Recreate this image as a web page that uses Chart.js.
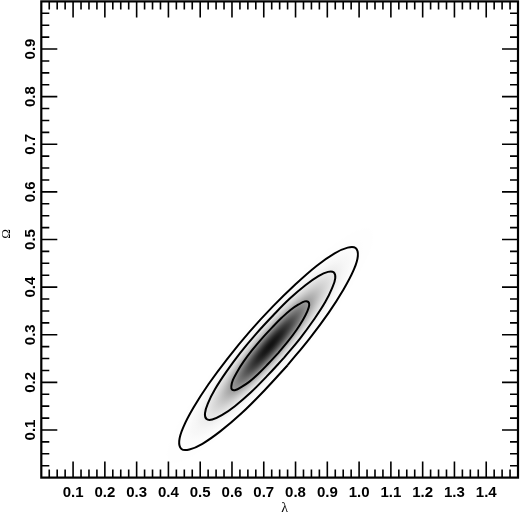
<!DOCTYPE html>
<html>
<head>
<meta charset="utf-8">
<script src="https://cdn.jsdelivr.net/npm/chart.js@4/dist/chart.umd.min.js"></script>
<style>
  html, body { margin: 0; padding: 0; background: #ffffff; }
  #wrap { width: 520px; height: 520px; position: relative; }
</style>
</head>
<body>
<div id="wrap"><canvas id="c"></canvas></div>
<script>
// ---- Data ----
const xAxisTitle = 'λ';
const yAxisTitle = 'Ω';
const xRange = [0, 1.5];
const yRange = [0, 1.0];
const xTickValues = [0.1, 0.2, 0.3, 0.4, 0.5, 0.6, 0.7, 0.8, 0.9, 1.0, 1.1, 1.2, 1.3, 1.4];
const xTickLabels = ['0.1', '0.2', '0.3', '0.4', '0.5', '0.6', '0.7', '0.8', '0.9', '1.0', '1.1', '1.2', '1.3', '1.4'];
const yTickValues = [0.1, 0.2, 0.3, 0.4, 0.5, 0.6, 0.7, 0.8, 0.9];
const yTickLabels = ['0.1', '0.2', '0.3', '0.4', '0.5', '0.6', '0.7', '0.8', '0.9'];
const minorStep = 0.025;

// contour lines [lambda, Omega] (inner, middle, outer)
const innerContour = [
  [0.746, 0.262], [0.714, 0.239], [0.683, 0.218], [0.654, 0.201], [0.629, 0.190], [0.611, 0.184],
  [0.600, 0.185], [0.598, 0.192], [0.603, 0.205], [0.617, 0.223], [0.637, 0.244], [0.664, 0.268],
  [0.694, 0.292], [0.726, 0.315], [0.757, 0.336], [0.786, 0.353], [0.811, 0.364], [0.829, 0.370],
  [0.840, 0.369], [0.843, 0.362], [0.837, 0.349], [0.823, 0.331], [0.803, 0.310], [0.776, 0.286],
  [0.746, 0.262]
];
const middleContour = [
  [0.764, 0.252], [0.710, 0.213], [0.658, 0.178], [0.609, 0.150], [0.568, 0.131], [0.538, 0.122],
  [0.520, 0.123], [0.515, 0.135], [0.525, 0.157], [0.547, 0.186], [0.582, 0.222], [0.626, 0.262],
  [0.676, 0.302], [0.730, 0.341], [0.782, 0.376], [0.831, 0.404], [0.872, 0.423], [0.902, 0.432],
  [0.920, 0.431], [0.925, 0.419], [0.915, 0.398], [0.893, 0.368], [0.858, 0.332], [0.814, 0.292],
  [0.764, 0.252]
];
const outerContour = [
  [0.775, 0.236], [0.702, 0.183], [0.630, 0.135], [0.563, 0.097], [0.507, 0.071], [0.466, 0.059],
  [0.441, 0.060], [0.434, 0.077], [0.447, 0.106], [0.479, 0.147], [0.526, 0.196], [0.586, 0.250],
  [0.655, 0.306], [0.728, 0.359], [0.800, 0.406], [0.867, 0.445], [0.923, 0.471], [0.964, 0.483],
  [0.989, 0.482], [0.996, 0.465], [0.983, 0.436], [0.951, 0.395], [0.904, 0.346], [0.844, 0.292],
  [0.775, 0.236]
];

// ---- Plugins ----
const densityPlugin = {
  id: 'density',
  beforeDatasetsDraw(chart) {
    const { ctx, chartArea: ca, scales } = chart;
    const pts = innerContour.slice(0, -1).map(p => [scales.x.getPixelForValue(p[0]), scales.y.getPixelForValue(p[1])]);
    let cx = 0, cy = 0;
    pts.forEach(p => { cx += p[0]; cy += p[1]; });
    cx /= pts.length; cy /= pts.length;
    let far = pts[0], fd = 0, nd = Infinity;
    pts.forEach(p => {
      const d = Math.hypot(p[0] - cx, p[1] - cy);
      if (d > fd) { fd = d; far = p; }
      if (d < nd) nd = d;
    });
    const ang = Math.atan2(far[1] - cy, far[0] - cx);
    ctx.save();
    ctx.beginPath(); ctx.rect(ca.left, ca.top, ca.width, ca.height); ctx.clip();
    ctx.translate(cx, cy); ctx.rotate(ang); ctx.scale(fd, nd);
    const R = 3.2;
    const g = ctx.createRadialGradient(0, 0, 0, 0, 0, R);
    const n = 48;
    for (let i = 0; i <= n; i++) {
      const r = R * i / n;
      const d = Math.exp(-1.1475 * r * r);
      const v = Math.round(255 - 237 * Math.pow(d, 0.78));
      g.addColorStop(i / n, `rgb(${v},${v},${v})`);
    }
    ctx.fillStyle = g;
    ctx.beginPath(); ctx.arc(0, 0, R, 0, Math.PI * 2); ctx.fill();
    ctx.restore();
  }
};

const framePlugin = {
  id: 'frame',
  afterDatasetsDraw(chart) {
    const { ctx, chartArea: ca, scales } = chart;
    const xs = scales.x, ys = scales.y;
    ctx.save();
    ctx.strokeStyle = '#000';
    ctx.lineWidth = 1.6;
    ctx.lineCap = 'butt';
    const isMajor = (v, list) => list.some(t => Math.abs(t - v) < 1e-6);
    for (let v = xRange[0] + minorStep; v < xRange[1] - 1e-9; v += minorStep) {
      const vv = Math.round(v * 1000) / 1000;
      const px = xs.getPixelForValue(vv);
      const len = isMajor(vv, xTickValues) ? 16 : 8;
      ctx.beginPath();
      ctx.moveTo(px, ca.bottom); ctx.lineTo(px, ca.bottom - len);
      ctx.moveTo(px, ca.top); ctx.lineTo(px, ca.top + len);
      ctx.stroke();
    }
    for (let v = yRange[0] + minorStep; v < yRange[1] - 1e-9; v += minorStep) {
      const vv = Math.round(v * 1000) / 1000;
      const py = ys.getPixelForValue(vv);
      const len = isMajor(vv, yTickValues) ? 16 : 8;
      ctx.beginPath();
      ctx.moveTo(ca.left, py); ctx.lineTo(ca.left + len, py);
      ctx.moveTo(ca.right, py); ctx.lineTo(ca.right - len, py);
      ctx.stroke();
    }
    ctx.lineWidth = 2.2;
    ctx.strokeRect(ca.left, ca.top, ca.right - ca.left, ca.bottom - ca.top);
    ctx.restore();
  },
  afterDraw(chart) {
    const { ctx, chartArea: ca, scales } = chart;
    ctx.save();
    ctx.fillStyle = '#000';
    ctx.font = 'bold 15px "Liberation Sans", Arial, sans-serif';
    ctx.textAlign = 'center';
    ctx.textBaseline = 'alphabetic';
    xTickValues.forEach((v, i) => {
      ctx.fillText(xTickLabels[i], scales.x.getPixelForValue(v), ca.bottom + 19.5);
    });
    yTickValues.forEach((v, i) => {
      ctx.save();
      ctx.translate(ca.left - 6.5, scales.y.getPixelForValue(v));
      ctx.rotate(-Math.PI / 2);
      ctx.fillText(yTickLabels[i], 0, 0);
      ctx.restore();
    });
    ctx.font = '14px "Liberation Serif", "DejaVu Serif", serif';
    ctx.fillText(xAxisTitle, (ca.left + ca.right) / 2 + 5, ca.bottom + 34.4);
    ctx.font = '13px "Liberation Serif", "DejaVu Serif", serif';
    ctx.save();
    ctx.translate(ca.left - 31.5, (ca.top + ca.bottom) / 2 - 5.5);
    ctx.rotate(-Math.PI / 2);
    ctx.fillText(yAxisTitle, 0, 0);
    ctx.restore();
    ctx.restore();
  }
};

const toPoints = arr => arr.map(p => ({ x: p[0], y: p[1] }));
const lineStyle = { showLine: true, borderColor: '#000', borderWidth: 2, pointRadius: 0, tension: 0.4, fill: false };

new Chart(document.getElementById('c'), {
  type: 'scatter',
  data: {
    datasets: [
      Object.assign({ label: 'inner', data: toPoints(innerContour) }, lineStyle),
      Object.assign({ label: 'middle', data: toPoints(middleContour) }, lineStyle),
      Object.assign({ label: 'outer', data: toPoints(outerContour) }, lineStyle)
    ]
  },
  options: {
    responsive: true,
    maintainAspectRatio: false,
    animation: false,
    layout: { padding: { left: 41.3, top: 1.4, right: 2, bottom: 42.4 } },
    plugins: { legend: { display: false }, tooltip: { enabled: false } },
    scales: {
      x: { type: 'linear', min: xRange[0], max: xRange[1], display: false },
      y: { type: 'linear', min: yRange[0], max: yRange[1], display: false }
    }
  },
  plugins: [densityPlugin, framePlugin]
});
</script>
</body>
</html>
